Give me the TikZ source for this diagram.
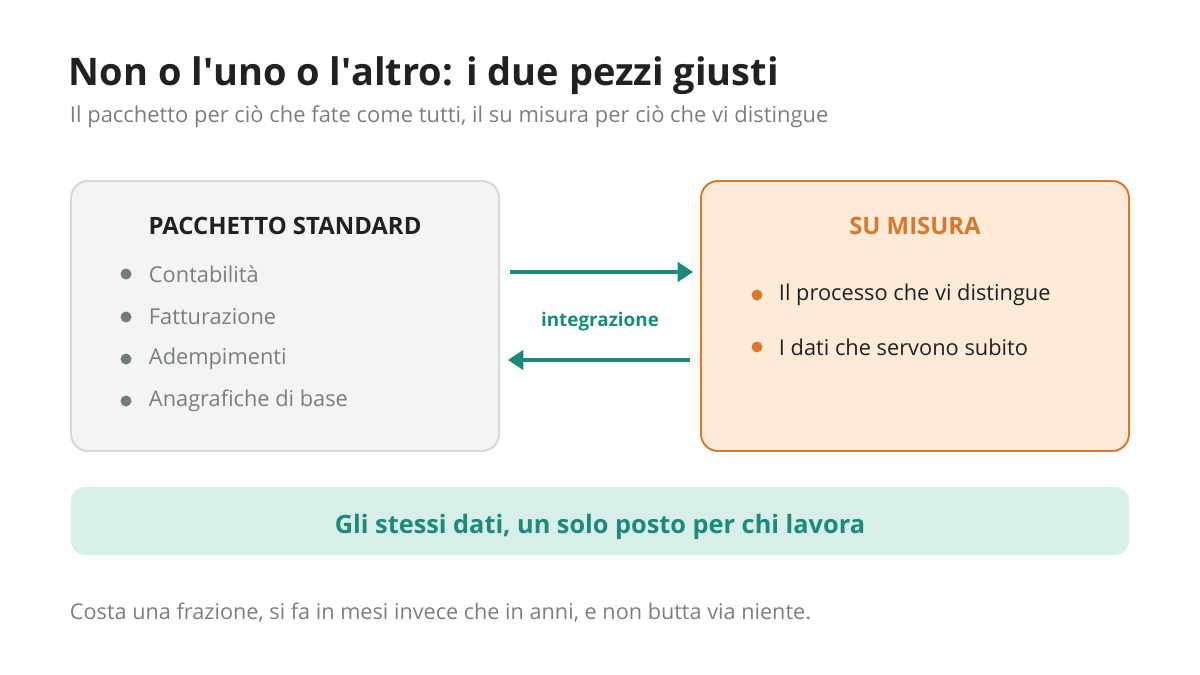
\documentclass[tikz,border=0pt]{standalone}
\usepackage{fontspec}
\setmainfont{Open Sans}
\usetikzlibrary{arrows.meta}
\definecolor{teal}{HTML}{1A8A7A}
\definecolor{orng}{HTML}{D9782D}
\definecolor{orngfill}{HTML}{FDEBD8}
\definecolor{grayfill}{HTML}{F3F5F4}
\definecolor{grayline}{HTML}{D3D9D6}
\definecolor{bandfill}{HTML}{D8EEE8}
\definecolor{dot}{HTML}{6F7F76}
\definecolor{txtgray}{HTML}{7A7F7D}
\definecolor{ink}{HTML}{1E2220}
\tikzset{
  box/.style={rounded corners=12pt, line width=1.4pt},
  item/.style={anchor=west, font=\fontsize{15.5}{18}\selectfont},
  flow/.style={-{Triangle[length=11pt,width=14pt]}, line width=2.4pt, teal}
}
\begin{document}
\begin{tikzpicture}[x=0.025cm,y=-0.025cm]
  \useasboundingbox (0,0) rectangle (1200,675);

  \node (title) [anchor=west, font=\bfseries\fontsize{27}{30}\selectfont, text=ink] at (64,76) {Non o l\textquotesingle uno o l\textquotesingle altro: i due pezzi giusti};
  \node (sub) [anchor=west, font=\fontsize{15.6}{18}\selectfont, text=txtgray] at (65,117) {Il pacchetto per ciò che fate come tutti, il su misura per ciò che vi distingue};

  % left box
  \draw [box, draw=grayline, fill=grayfill] (71,181) rectangle (499,451);
  \node (std) [font=\fontsize{17}{20}\selectfont\bfseries, text=ink] at (285,226) {PACCHETTO STANDARD};
  \foreach \y/\t [count=\i] in {274/Contabilità, 317/Fatturazione, 359/Adempimenti, 401/Anagrafiche di base} {
    \fill [dot] (126,\y) circle (5.5);
    \node (s\i) [item, text=txtgray] at (144,\y) {\t};
  }

  % right box
  \draw [box, draw=orng, fill=orngfill] (701,181) rectangle (1129,451);
  \node (mis) [font=\fontsize{17}{20}\selectfont\bfseries, text=orng] at (915,226) {SU MISURA};
  \foreach \y/\t [count=\i] in {295/Il processo che vi distingue, 347/I dati che servono subito} {
    \fill [orng] (757,\y) circle (5.5);
    \node (m\i) [item, text=ink] at (774,\y) {\t};
  }

  % arrows
  \coordinate (a1) at (510,272);
  \coordinate (b1) at (693,272);
  \coordinate (a2) at (690,360);
  \coordinate (b2) at (508,360);
  \draw [flow] (a1) -- (b1);
  \draw [flow] (a2) -- (b2);
  \node (int) [font=\fontsize{13.4}{15}\selectfont\bfseries, text=teal] at (600,322) {integrazione};

  % band
  \fill [bandfill, rounded corners=10pt] (71,487) rectangle (1129,555);
  \node (band) [font=\fontsize{18}{20}\selectfont\bfseries, text=teal] at (600,527) {Gli stessi dati, un solo posto per chi lavora};

  \node (foot) [anchor=west, font=\fontsize{15.4}{18}\selectfont, text=txtgray] at (65,613) {Costa una frazione, si fa in mesi invece che in anni, e non butta via niente.};
\end{tikzpicture}
\end{document}
